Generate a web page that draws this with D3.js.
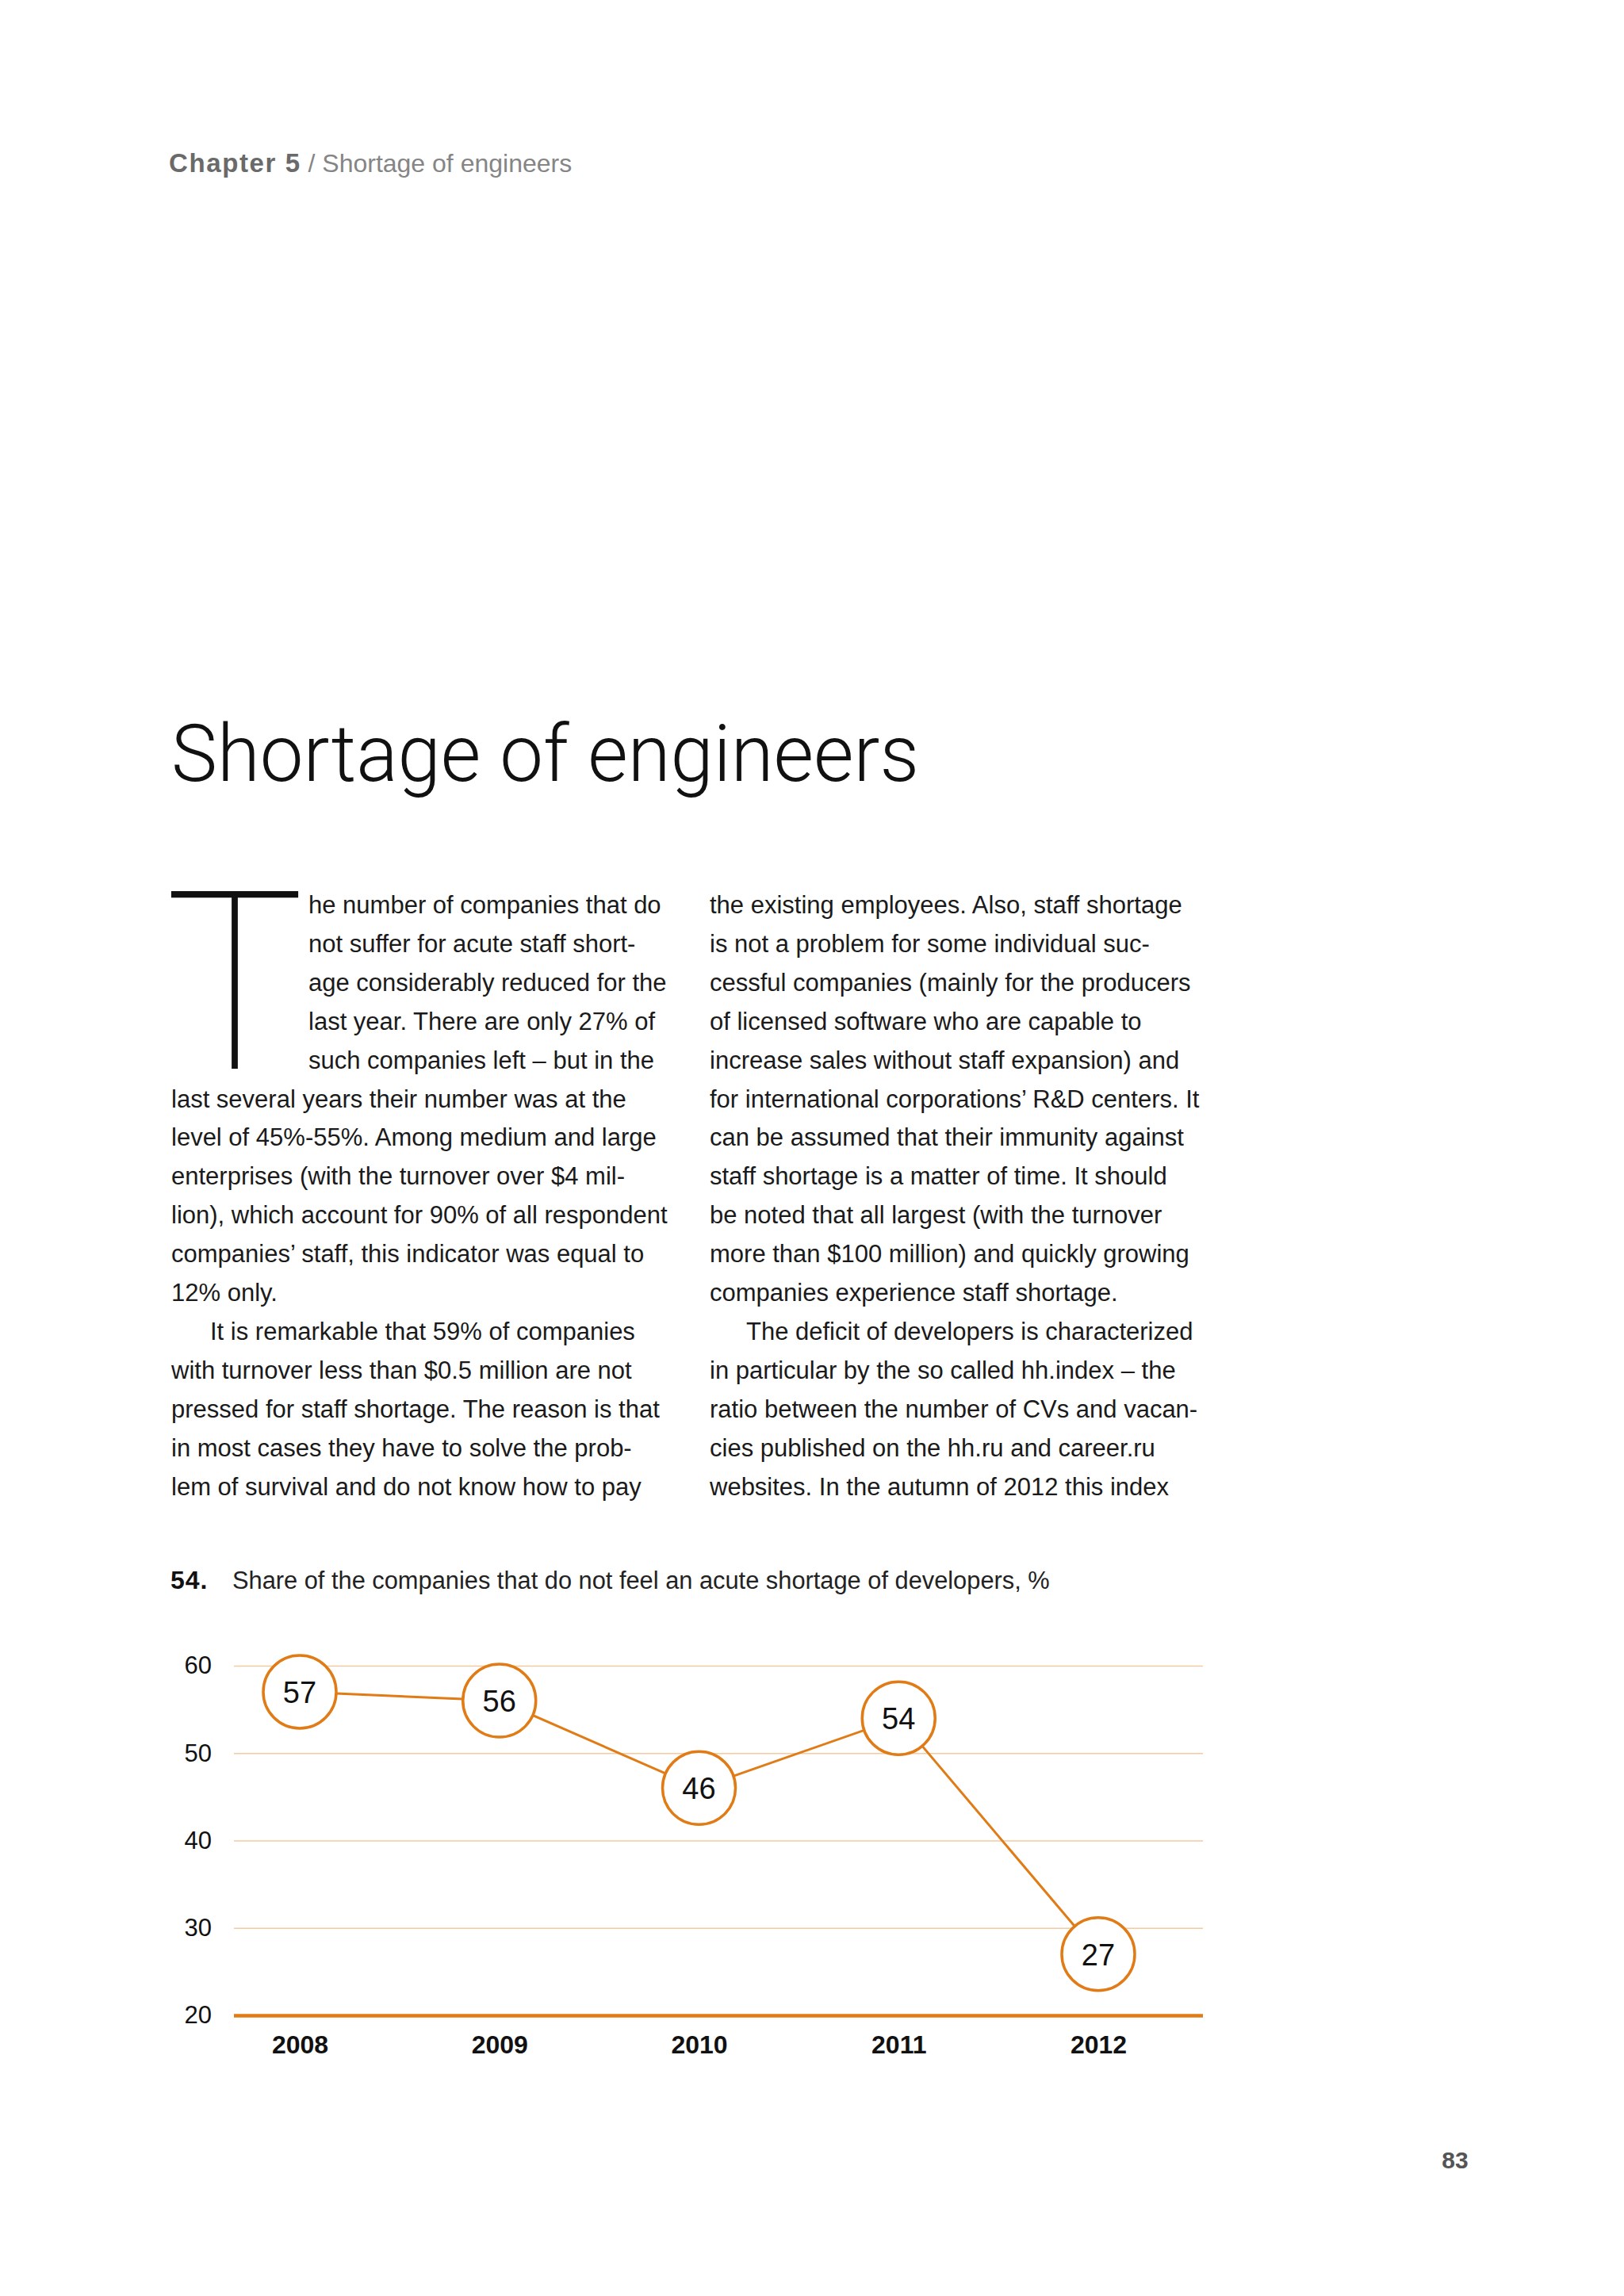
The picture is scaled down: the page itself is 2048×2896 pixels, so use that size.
<!DOCTYPE html>
<html>
<head>
<meta charset="utf-8">
<script src="https://cdn.jsdelivr.net/npm/d3@7"></script>
<style>
    body { margin: 0; background: #ffffff; }
    svg text { font-family: "Liberation Sans", Arial, Helvetica, sans-serif; }
</style>
</head>
<body>
<svg id="page"></svg>
<script>

// Chart data: share of companies without acute shortage of developers, %
let years = ['2008', '2009', '2010', '2011', '2012'];
let shareValues = [57, 56, 46, 54, 27];
let yTicks = [20, 30, 40, 50, 60];

// Page texts
let headerBold = 'Chapter 5';
let headerRest = ' / Shortage of engineers';
let pageTitle = 'Shortage of engineers';
let chartNumber = '54.';
let chartTitle = 'Share of the companies that do not feel an acute shortage of developers, %';
let pageNumber = '83';

let leftColumn = [
    'he number of companies that do',
    'not suffer for acute staff short-',
    'age considerably reduced for the',
    'last year. There are only 27% of',
    'such companies left – but in the',
    'last several years their number was at the',
    'level of 45%-55%. Among medium and large',
    'enterprises (with the turnover over $4 mil-',
    'lion), which account for 90% of all respondent',
    'companies’ staff, this indicator was equal to',
    '12% only.',
    'It is remarkable that 59% of companies',
    'with turnover less than $0.5 million are not',
    'pressed for staff shortage. The reason is that',
    'in most cases they have to solve the prob-',
    'lem of survival and do not know how to pay'
];

let rightColumn = [
    'the existing employees. Also, staff shortage',
    'is not a problem for some individual suc-',
    'cessful companies (mainly for the producers',
    'of licensed software who are capable to',
    'increase sales without staff expansion) and',
    'for international corporations’ R&D centers. It',
    'can be assumed that their immunity against',
    'staff shortage is a matter of time. It should',
    'be noted that all largest (with the turnover',
    'more than $100 million) and quickly growing',
    'companies experience staff shortage.',
    'The deficit of developers is characterized',
    'in particular by the so called hh.index – the',
    'ratio between the number of CVs and vacan-',
    'cies published on the hh.ru and career.ru',
    'websites. In the autumn of 2012 this index'
];

// Page size and colours
let pageWidth = 2048;
let pageHeight = 2896;
let orange = '#e07b16';
let gridColor = '#f4caa0';

let svg = d3.select('#page')
    .attr('width', pageWidth)
    .attr('height', pageHeight);

svg.append('rect')
    .attr('width', pageWidth)
    .attr('height', pageHeight)
    .attr('fill', '#ffffff');

// Running header
let header = svg.append('text')
    .attr('x', 213)
    .attr('y', 217)
    .attr('font-size', 32);
header.append('tspan')
    .attr('font-weight', 900)
    .attr('font-size', 33)
    .attr('letter-spacing', 1.6)
    .attr('fill', '#6a6a6a')
    .text(headerBold);
header.append('tspan')
    .attr('fill', '#858585')
    .attr('xml:space', 'preserve')
    .text(headerRest);

// Big page title
svg.append('text')
    .attr('x', 216)
    .attr('y', 985)
    .attr('font-size', 101)
    .attr('font-weight', 300)
    .style('font-family', 'Roboto, "Open Sans", sans-serif')
    .attr('textLength', 943)
    .attr('lengthAdjust', 'spacingAndGlyphs')
    .attr('fill', '#111111')
    .text(pageTitle);

// Drop cap
svg.append('text')
    .attr('x', 208)
    .attr('y', 1348)
    .attr('font-size', 315)
    .attr('font-weight', 100)
    .style('font-family', 'Roboto, Lato, sans-serif')
    .attr('textLength', 176)
    .attr('lengthAdjust', 'spacingAndGlyphs')
    .attr('fill', '#111111')
    .text('T');

// Body text, two columns
let firstBaseline = 1152;
let lineStep = 48.9;

svg.append('g')
    .selectAll('text')
    .data(leftColumn)
    .join('text')
    .attr('x', (d, i) => i < 5 ? 389 : (i === 11 ? 265 : 216))
    .attr('y', (d, i) => firstBaseline + i * lineStep)
    .attr('font-size', 31)
    .attr('fill', '#1a1a1a')
    .text(d => d);

svg.append('g')
    .selectAll('text')
    .data(rightColumn)
    .join('text')
    .attr('x', (d, i) => i === 11 ? 941 : 895)
    .attr('y', (d, i) => firstBaseline + i * lineStep)
    .attr('font-size', 31)
    .attr('fill', '#1a1a1a')
    .text(d => d);

// Chart caption
svg.append('text')
    .attr('x', 215)
    .attr('y', 2004)
    .attr('font-size', 32)
    .attr('font-weight', 900)
    .attr('letter-spacing', 1)
    .attr('fill', '#111111')
    .text(chartNumber);

svg.append('text')
    .attr('x', 293)
    .attr('y', 2004)
    .attr('font-size', 30.8)
    .attr('fill', '#222222')
    .text(chartTitle);

// Chart scales
let plotLeft = 295;
let plotRight = 1517;

let xScale = d3.scalePoint()
    .domain(years)
    .range([378, 1385]);

let yScale = d3.scaleLinear()
    .domain([20, 60])
    .range([2542, 2101]);

// Gridlines and y labels
let yAxis = d3.axisLeft(yScale)
    .tickValues(yTicks)
    .tickSize(-(plotRight - plotLeft))
    .tickPadding(28);

let yAxisGroup = svg.append('g')
    .attr('transform', `translate(${plotLeft},0)`)
    .call(yAxis);

yAxisGroup.select('.domain').remove();

yAxisGroup.selectAll('.tick line')
    .attr('stroke', d => d === 20 ? orange : gridColor)
    .attr('stroke-width', d => d === 20 ? 4.5 : 1.6);

yAxisGroup.selectAll('.tick text')
    .attr('font-size', 31)
    .attr('fill', '#111111')
    .style('font-family', '"Liberation Sans", Arial, sans-serif');

// Year labels
let xAxis = d3.axisBottom(xScale)
    .tickSize(0)
    .tickPadding(25);

let xAxisGroup = svg.append('g')
    .attr('transform', `translate(0,${yScale(20)})`)
    .call(xAxis);

xAxisGroup.select('.domain').remove();

xAxisGroup.selectAll('.tick text')
    .attr('font-size', 32)
    .attr('font-weight', 'bold')
    .attr('fill', '#111111')
    .style('font-family', '"Liberation Sans", Arial, sans-serif');

// Connecting line
let points = years.map((y, i) => ({ year: y, value: shareValues[i] }));

let line = d3.line()
    .x(d => xScale(d.year))
    .y(d => yScale(d.value));

svg.append('path')
    .datum(points)
    .attr('d', line)
    .attr('fill', 'none')
    .attr('stroke', orange)
    .attr('stroke-width', 3);

// Value circles with labels
let markers = svg.append('g')
    .selectAll('g')
    .data(points)
    .join('g')
    .attr('transform', d => `translate(${xScale(d.year)},${yScale(d.value)})`);

markers.append('circle')
    .attr('r', 46)
    .attr('fill', '#ffffff')
    .attr('stroke', orange)
    .attr('stroke-width', 3.5);

markers.append('text')
    .attr('text-anchor', 'middle')
    .attr('dy', '0.36em')
    .attr('font-size', 38)
    .attr('fill', '#111111')
    .text(d => d.value);

// Page number
svg.append('text')
    .attr('x', 1835)
    .attr('y', 2735)
    .attr('text-anchor', 'middle')
    .attr('font-size', 30)
    .attr('font-weight', 'bold')
    .attr('fill', '#555555')
    .text(pageNumber);

</script>
</body>
</html>
